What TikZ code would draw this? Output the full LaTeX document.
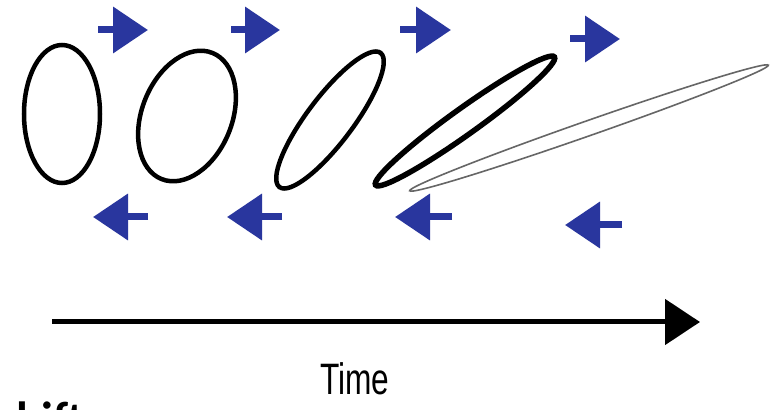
\documentclass[tikz,border=0pt]{standalone}
\usepackage{fontspec}
\setmainfont{Liberation Sans}
\newfontfamily\carlito{Carlito}
\usetikzlibrary{arrows.meta}
\definecolor{arrowblue}{RGB}{41,54,158}
\begin{document}
\begin{tikzpicture}[x=1pt,y=1pt,
  ring/.style={line width=4.5pt, black},
  thickring/.style={line width=5.5pt, black},
  thinring/.style={line width=1.6pt, black!60},
  bluearrow/.style={arrowblue, line width=7pt, -{Triangle[length=35pt,width=45pt]}},
  timearrow/.style={black, line width=5pt, -{Triangle[length=35pt,width=45pt]}},
  timelbl/.style={font=\fontsize{44}{44}\selectfont, inner sep=0pt, anchor=base, xscale=0.72},
  cutlbl/.style={font=\carlito\bfseries\fontsize{48}{48}\selectfont, inner sep=0pt, anchor=base west}]
\clip (0,0) rectangle (772,410);
\fill[white] (0,0) rectangle (772,410);
% ellipses
\draw[ring] (62,296) ellipse [x radius=38, y radius=69];
\draw[ring, rotate around={-22:(187,294)}] (187,294) ellipse [x radius=45, y radius=68];
\draw[ring, rotate around={53:(330,290)}] (330,290) ellipse [x radius=84, y radius=23];
\draw[thickring, rotate around={35.6:(465,289)}] (465,289) ellipse [x radius=110, y radius=13];
\draw[thinring, rotate around={19.3:(589,282)}] (589,282) ellipse [x radius=190, y radius=7.5];
% arrow end points
\coordinate (r1s) at (98,380);  \coordinate (r1e) at (148,380);
\coordinate (r2s) at (231,380); \coordinate (r2e) at (280,380);
\coordinate (r3s) at (400,380); \coordinate (r3e) at (451,380);
\coordinate (r4s) at (570,371); \coordinate (r4e) at (620,371);
\coordinate (l1s) at (148,193); \coordinate (l1e) at (93,193);
\coordinate (l2s) at (282,193); \coordinate (l2e) at (227,193);
\coordinate (l3s) at (452,193); \coordinate (l3e) at (395,193);
\coordinate (l4s) at (622,185); \coordinate (l4e) at (565,185);
\foreach \a in {r1,r2,r3,r4,l1,l2,l3,l4} {
  \draw[bluearrow] (\a s) -- (\a e);
}
% time axis
\coordinate (ts) at (52,88);
\coordinate (te) at (700,88);
\draw[timearrow] (ts) -- (te);
\node[timelbl] (time) at (355,15) {Time};
\node[cutlbl] (cut) at (16,-26) {hift};
\end{tikzpicture}
\end{document}
